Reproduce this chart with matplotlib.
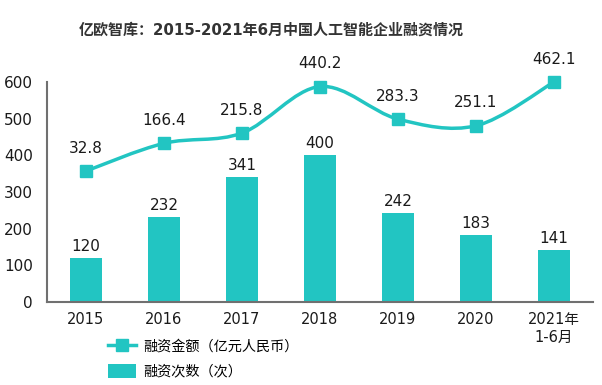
import numpy as np
import matplotlib
matplotlib.use("Agg")
import matplotlib.pyplot as plt
from matplotlib.path import Path
from matplotlib.patches import PathPatch
from matplotlib.lines import Line2D
from matplotlib.patches import Patch

plt.rcParams['font.family'] = ['DejaVu Sans', 'Noto Sans CJK SC']

# Data
years = ["2015", "2016", "2017", "2018", "2019", "2020", "2021年\n1-6月"]
deal_counts = [120, 232, 341, 400, 242, 183, 141]
amounts = [32.8, 166.4, 215.8, 440.2, 283.3, 251.1, 462.1]

teal = "#22C5C2"
text_color = "#1a1a1a"

fig = plt.figure(figsize=(6.02, 3.85), dpi=100)
ax = fig.add_axes([0.078, 0.216, 0.907, 0.571])
x = np.arange(len(years))

# Bars: number of deals
ax.bar(x, deal_counts, width=0.4, color=teal, zorder=2)
for xi, v in zip(x, deal_counts):
    ax.annotate(str(v), (xi, v), xytext=(0, 3), textcoords="offset points",
                ha="center", va="bottom", fontsize=11, color=text_color)

ax.set_xlim(-0.5, len(years) - 0.5)
ax.set_ylim(0, 600)
ax.set_yticks(range(0, 601, 100))
ax.set_xticks(x)
ax.set_xticklabels(years, fontsize=10.5, color=text_color, linespacing=1.25)
ax.tick_params(axis="y", labelsize=11, labelcolor=text_color, length=0, pad=10)
ax.tick_params(axis="x", length=0, pad=7)
for s in ["top", "right"]:
    ax.spines[s].set_visible(False)
for s in ["left", "bottom"]:
    ax.spines[s].set_color("#707070")
    ax.spines[s].set_linewidth(1.5)

# Secondary (hidden) axis for amount
ax2 = ax.twinx()
ax2.set_ylim(-597.9, 462.1)
ax2.axis("off")

# Smoothed line through the points (Catmull-Rom as cubic Bezier)
pts = np.column_stack([x, amounts]).astype(float)
verts = [tuple(pts[0])]
codes = [Path.MOVETO]
n = len(pts)
for i in range(n - 1):
    p0 = pts[i - 1] if i > 0 else pts[i]
    p1 = pts[i]
    p2 = pts[i + 1]
    p3 = pts[i + 2] if i + 2 < n else pts[i + 1]
    c1 = p1 + (p2 - p0) / 6.0
    c2 = p2 - (p3 - p1) / 6.0
    verts += [tuple(c1), tuple(c2), tuple(p2)]
    codes += [Path.CURVE4] * 3
ax2.add_patch(PathPatch(Path(verts, codes), facecolor="none", edgecolor=teal,
                        linewidth=2.5, zorder=3, clip_on=False))
ax2.plot(x, amounts, linestyle="none", marker="s", markersize=9, color=teal,
         zorder=4, clip_on=False)
for xi, v in zip(x, amounts):
    ax2.annotate(f"{v:.1f}", (xi, v), xytext=(0, 11), textcoords="offset points",
                 ha="center", va="bottom", fontsize=11, color=text_color)

fig.text(0.451, 0.922, "亿欧智库：2015-2021年6月中国人工智能企业融资情况",
         ha="center", va="center", fontsize=10.8, fontweight="bold", color="#333333")

handles = [Line2D([0], [0], color=teal, linewidth=2.5, marker="s", markersize=8),
           Patch(facecolor=teal)]
labels = ["融资金额（亿元人民币）", "融资次数（次）"]
fig.legend(handles, labels, loc="upper left", bbox_to_anchor=(0.17, 0.135),
           frameon=False, fontsize=10.2, handlelength=2.0, labelspacing=0.75,
           borderaxespad=0, handletextpad=0.5, handleheight=1.1)

fig.savefig("out.png", dpi=100)
